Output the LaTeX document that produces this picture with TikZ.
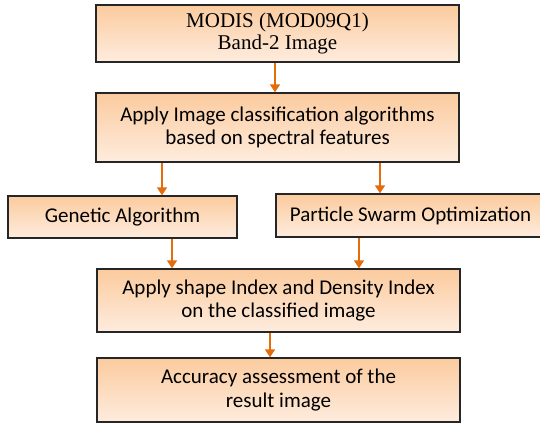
\documentclass[tikz,border=0pt]{standalone}
\usepackage{fontspec}
\setmainfont{Liberation Serif}
\newfontfamily\calfont{Carlito}
\usetikzlibrary{arrows.meta}
\definecolor{boxtop}{RGB}{251,203,158}
\definecolor{boxbot}{RGB}{254,236,222}
\definecolor{arrorange}{RGB}{228,108,10}
\tikzset{
  box/.style={draw=black!85, line width=1.4pt, top color=boxtop, bottom color=boxbot,
    inner sep=0pt, align=center, text=black},
  calbox/.style={box, font=\calfont\fontsize{21}{23.5}\selectfont},
  arr/.style={draw=arrorange, line width=1.5pt, -{Triangle[length=8pt,width=10pt]}}
}
\begin{document}
\begin{tikzpicture}[x=1pt,y=-1pt]
\useasboundingbox (0,0) rectangle (540,424);
\node[box, font=\fontsize{21}{22.5}\selectfont, minimum width=363, minimum height=57] (b1) at (277.5,33.5) {MODIS (MOD09Q1)\\Band-2 Image};
\node[calbox, minimum width=363, minimum height=69] (b2) at (277.5,127.5) {Apply Image classification algorithms\\based on spectral features};
\node[calbox, minimum width=229, minimum height=42] (ga) at (122.5,217) {Genetic Algorithm};
\node[calbox, minimum width=269, minimum height=43] (pso) at (410.5,215.5) {Particle Swarm Optimization};
\node[calbox, minimum width=363, minimum height=63] (b3) at (278.5,300.5) {Apply shape Index and Density Index\\on the classified image};
\node[calbox, minimum width=363, minimum height=64] (b4) at (278.5,390) {Accuracy assessment of the\\result image};
\coordinate (xa) at (275,0);
\coordinate (xb) at (162,0);
\coordinate (xc) at (380,0);
\coordinate (xd) at (172,0);
\coordinate (xe) at (359,0);
\coordinate (xf) at (270,0);
\draw[arr] (b1.south -| xa) -- (b2.north -| xa);
\draw[arr] (b2.south -| xb) -- (ga.north -| xb);
\draw[arr] (b2.south -| xc) -- (pso.north -| xc);
\draw[arr] (ga.south -| xd) -- (b3.north -| xd);
\draw[arr] (pso.south -| xe) -- (b3.north -| xe);
\draw[arr] (b3.south -| xf) -- (b4.north -| xf);
\end{tikzpicture}
\end{document}
